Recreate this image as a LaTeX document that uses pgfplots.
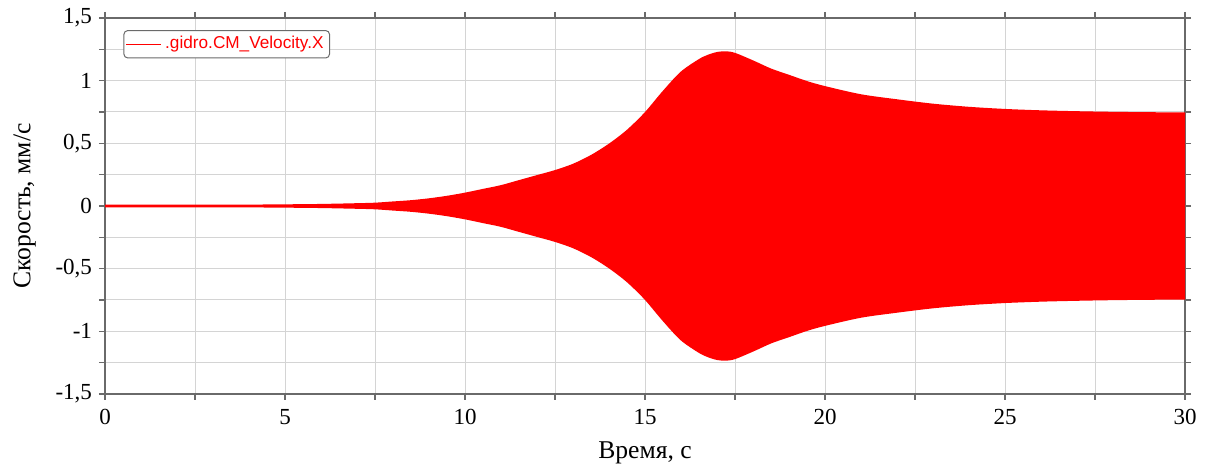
\documentclass[border=0pt]{standalone}
\usepackage{fontspec}
\setmainfont{Liberation Serif}
\newfontfamily\legfont{Liberation Sans}
\usepackage{pgfplots}
\pgfplotsset{compat=1.18}
\usepgfplotslibrary{fillbetween}

\definecolor{gridc}{HTML}{D4D4D4}
\definecolor{axc}{HTML}{6A6A6A}
\definecolor{sig}{HTML}{FF0000}

\begin{document}
\begin{tikzpicture}
\begin{axis}[
    name=ax,
    scale only axis,
    width=540pt, height=188pt,
    xmin=0, xmax=30, ymin=-1.5, ymax=1.5,
    xtick={0,5,...,30},
    ytick={-1.5,-1,...,1.5},
    yticklabels={{-1,5},{-1},{-0,5},{0},{0,5},{1},{1,5}},
    minor x tick num=1,
    minor y tick num=1,
    grid=both,
    grid style={gridc, line width=0.5pt},
    minor grid style={gridc, line width=0.5pt},
    axis line style={axc, line width=0.9pt},
    tick style={axc, line width=0.7pt},
    tick align=outside,
    major tick length=3pt,
    minor tick length=3pt,
    /pgf/number format/assume math mode=true,
    tick label style={font=\fontsize{11.5}{12}\selectfont},
    xticklabel style={yshift=-1pt},
    xlabel={Время, с},
    ylabel={Скорость, мм/с},
    label style={font=\fontsize{12.8}{14}\selectfont},
    xlabel style={yshift=-1.5pt},
    ylabel style={yshift=3pt},
    legend style={at={(0.017,0.968)}, anchor=north west, draw=axc,
        rounded corners=2pt, font=\legfont\fontsize{8.6}{10}\selectfont,
        text=sig, inner sep=1pt, line width=0.5pt},
    legend cell align=left,
    legend image post style={sig, line width=0.6pt},
]
% upper envelope
\addplot[name path=up, draw=sig, line width=0.8pt, smooth, tension=0.5, forget plot] coordinates {
(0,0.004) (2,0.004) (4,0.005) (5,0.007) (6,0.010) (7,0.016) (7.5,0.02)
(8,0.03) (8.5,0.04) (9,0.055) (9.5,0.075) (10,0.10) (10.5,0.13) (11,0.16)
(11.5,0.20) (12,0.24) (12.5,0.28) (13,0.33) (13.5,0.40) (14,0.49) (14.5,0.60)
(15,0.74) (15.5,0.91) (16,1.065) (16.5,1.165) (16.75,1.20) (17,1.222) (17.25,1.228)
(17.5,1.215) (18,1.155) (18.5,1.09) (19,1.04) (19.5,0.99) (20,0.95) (21,0.885)
(22,0.845) (23,0.81) (24,0.785) (25,0.768) (26,0.757) (27,0.75) (28,0.745)
(29,0.742) (30,0.74)
};
% lower envelope
\addplot[name path=lo, draw=sig, line width=0.8pt, smooth, tension=0.5, forget plot] coordinates {
(0,-0.004) (2,-0.004) (4,-0.005) (5,-0.007) (6,-0.010) (7,-0.016) (7.5,-0.02)
(8,-0.03) (8.5,-0.04) (9,-0.055) (9.5,-0.075) (10,-0.10) (10.5,-0.13) (11,-0.16)
(11.5,-0.20) (12,-0.24) (12.5,-0.28) (13,-0.33) (13.5,-0.40) (14,-0.49) (14.5,-0.60)
(15,-0.74) (15.5,-0.91) (16,-1.065) (16.5,-1.165) (16.75,-1.20) (17,-1.222) (17.25,-1.228)
(17.5,-1.215) (18,-1.155) (18.5,-1.09) (19,-1.04) (19.5,-0.99) (20,-0.95) (21,-0.885)
(22,-0.845) (23,-0.81) (24,-0.785) (25,-0.768) (26,-0.757) (27,-0.75) (28,-0.745)
(29,-0.742) (30,-0.74)
};
\addplot[sig, forget plot] fill between[of=up and lo];
\addlegendimage{sig, line width=0.6pt}
\addlegendentry{.gidro.CM\_Velocity.X}
\end{axis}
\pgfresetboundingbox
\path[use as bounding box] (ax.south west) ++(-52.5pt,-35.5pt) rectangle ([xshift=10pt,yshift=9pt]ax.north east);
\end{tikzpicture}
\end{document}
